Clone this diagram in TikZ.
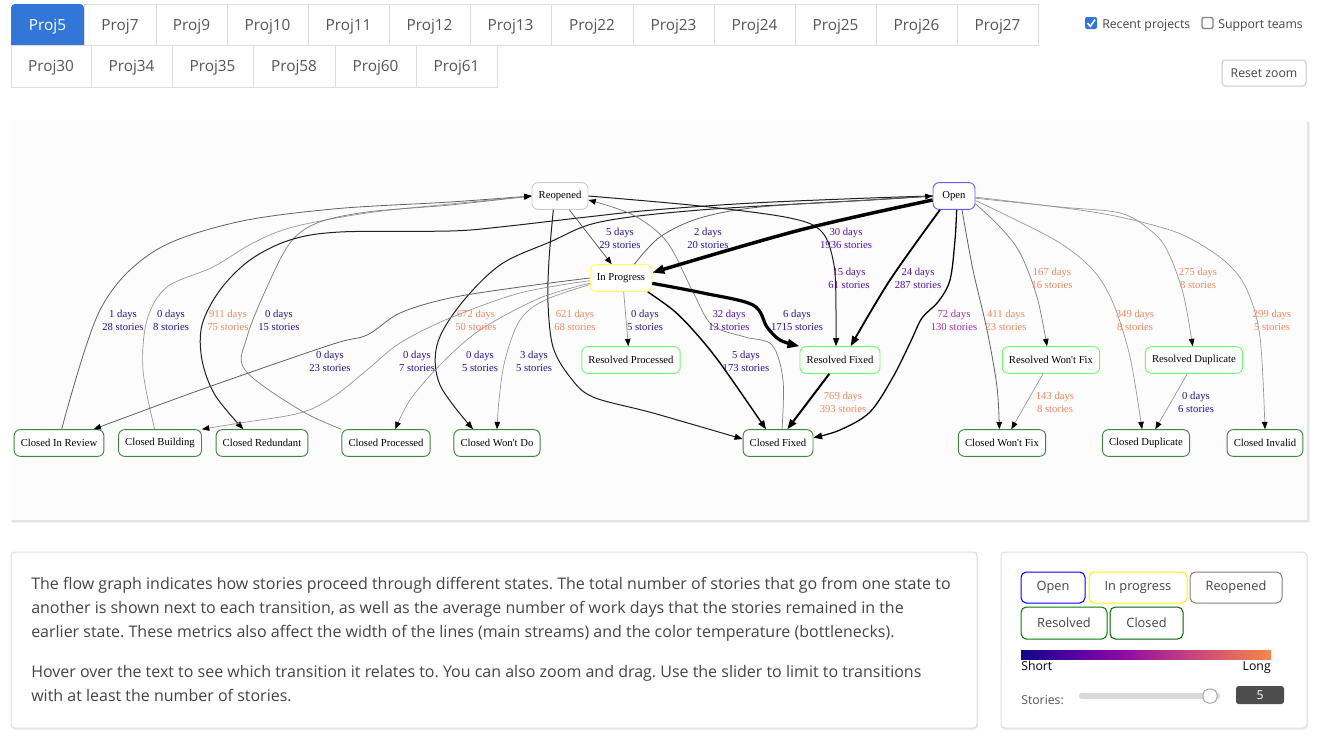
\documentclass[tikz,border=0pt]{standalone}
\usepackage{fontspec}
\usetikzlibrary{arrows.meta}
\newfontfamily\uif{Open Sans}
\newfontfamily\gf{Liberation Serif}
\definecolor{tabblue}{RGB}{50,118,216}
\definecolor{tabline}{RGB}{221,221,221}
\definecolor{tabtxt}{RGB}{85,85,85}
\definecolor{bodytxt}{RGB}{68,68,68}
\definecolor{cOpen}{RGB}{95,95,255}
\definecolor{cProg}{RGB}{255,255,90}
\definecolor{cReop}{RGB}{205,205,205}
\definecolor{cRes}{RGB}{110,250,110}
\definecolor{cClo}{RGB}{60,135,60}
\definecolor{dA}{RGB}{40,16,150}
\definecolor{dB}{RGB}{85,15,170}
\definecolor{dC}{RGB}{165,45,165}
\definecolor{dD}{RGB}{242,135,90}
\definecolor{panelbg}{RGB}{252,252,252}
\definecolor{valbox}{RGB}{77,77,77}
\definecolor{g1}{RGB}{13,8,135}
\definecolor{g2}{RGB}{84,2,163}
\definecolor{g3}{RGB}{139,10,165}
\definecolor{g4}{RGB}{185,50,137}
\definecolor{g5}{RGB}{219,92,104}
\definecolor{g6}{RGB}{244,136,73}
\begin{document}
\frenchspacing
\begin{tikzpicture}[x=0.75pt,y=-0.75pt,
  gn/.style={draw, fill=white, rounded corners=4.5pt, minimum height=20pt, inner xsep=5pt, inner ysep=0pt, line width=0.7pt, font=\gf\fontsize{8}{9.75}\selectfont},
  nopen/.style={gn, draw=cOpen, minimum width=31.5pt},
  nprog/.style={gn, draw=cProg},
  nreop/.style={gn, draw=cReop},
  nres/.style={gn, draw=cRes},
  nclo/.style={gn, draw=cClo},
  lb/.style={align=center, font=\gf\fontsize{8}{9.75}\selectfont, inner sep=0pt},
  e0/.style={-{Triangle[length=5.5pt,width=4.2pt,color=black]}, line width=0.5pt, draw=black!42},
  e1/.style={-{Triangle[length=5.5pt,width=4.2pt,color=black]}, line width=0.55pt, draw=black!50},
  e2/.style={-{Triangle[length=5.5pt,width=4.2pt,color=black]}, line width=0.6pt, draw=black!62},
  e3/.style={-{Triangle[length=6pt,width=4.5pt,color=black]}, line width=0.75pt, draw=black!88},
  e4/.style={-{Triangle[length=6.5pt,width=5pt]}, line width=1.05pt, draw=black},
  e4b/.style={-{Triangle[length=6.5pt,width=5pt]}, line width=0.95pt, draw=black},
  e5/.style={-{Triangle[length=7.5pt,width=5.5pt]}, line width=1.5pt, draw=black},
  e5b/.style={-{Triangle[length=7.5pt,width=5.5pt]}, line width=1.35pt, draw=black},
  e6/.style={-{Triangle[length=9pt,width=6.5pt]}, line width=2.4pt, draw=black},
  e7/.style={-{Triangle[length=9pt,width=6.5pt]}, line width=2.6pt, draw=black},
  tabt/.style={font=\uif\fontsize{11.5}{14}\selectfont, text=tabtxt, inner sep=0pt, anchor=base},
  uit/.style={font=\uif\fontsize{9.2}{11}\selectfont, text=bodytxt, inner sep=0pt},
  bt/.style={font=\uif\fontsize{12}{18}\selectfont, text=bodytxt, inner sep=0pt, anchor=base west},
  lg/.style={draw, line width=0.75pt, rounded corners=4pt, inner sep=0pt, font=\uif\fontsize{9.6}{11}\selectfont, text=bodytxt},
]
\useasboundingbox (0,0) rectangle (1318,736);
\fill[white] (0,0) rectangle (1318,736);

% ---------- tabs ----------
\fill[tabblue] (11,45) [rounded corners=3pt] -- (11,4) -- (84,4) [sharp corners] -- (84,45) -- cycle;
\node[tabt, text=white] (tabProj5) at (47.5,30) {Proj5};
\foreach \a/\b/\t in {84/156/Proj7,156/227/Proj9,227/308/Proj10,308/389/Proj11,389/470/Proj12,470/551/Proj13,551/633/Proj22,633/714/Proj23,714/795/Proj24,795/876/Proj25,876/957/Proj26,957/1038/Proj27}{
  \draw[tabline, line width=0.75pt] (\a,4) rectangle (\b,45);
  \node[tabt] (tab\t) at ({(\a+\b)/2},30) {\t};
}
\foreach \a/\b/\t in {11/91/Proj30,91/172/Proj34,172/253/Proj35,253/335/Proj58,335/416/Proj60,416/497/Proj61}{
  \draw[tabline, line width=0.75pt] (\a,45) rectangle (\b,87);
  \node[tabt] (tab\t) at ({(\a+\b)/2},71.5) {\t};
}

% ---------- checkboxes & reset ----------
\fill[tabblue, rounded corners=1.5pt] (1085,17) rectangle (1097,29);
\draw[white, line width=1.2pt] (1087.5,23.2) -- (1090.3,26.3) -- (1095,19.6);
\node[uit, anchor=base west] (recent) at (1102,28) {Recent projects};
\draw[black!50, line width=1pt, rounded corners=1.5pt] (1202,17.5) rectangle (1213,28.5);
\node[uit, anchor=base west] (support) at (1218,28) {Support teams};
\node[uit, draw=black!22, line width=0.75pt, rounded corners=2.5pt, minimum width=63pt, minimum height=19.5pt] (reset) at (1264,73) {Reset zoom};

% ---------- panels ----------
\fill[black, opacity=0.05] (12,122) rectangle (1310,523);
\fill[black, opacity=0.06] (11,121) rectangle (1309,521.5);
\fill[panelbg] (11,120) rectangle (1307,520);

\fill[black, opacity=0.06, rounded corners=3pt] (11,553) rectangle (978,730);
\draw[black!13, fill=white, line width=0.75pt, rounded corners=3pt] (11,552) rectangle (977,728);
\fill[black, opacity=0.06, rounded corners=3pt] (1001,553) rectangle (1308,730);
\draw[black!13, fill=white, line width=0.75pt, rounded corners=3pt] (1001,552) rectangle (1307,728);

% ---------- graph nodes ----------
\node[nreop] (reo) at (560,196) {Reopened};
\node[nopen] (open) at (954,196) {Open};
\node[nprog] (ip) at (621,278) {In Progress};
\node[nres] (rp) at (631,360) {Resolved Processed};
\node[nres] (rf) at (840,360) {Resolved Fixed};
\node[nres] (rwf) at (1051,360) {Resolved Won't Fix};
\node[nres] (rd) at (1194,360) {Resolved Duplicate};
\node[nclo] (cir) at (59,443) {Closed In Review};
\node[nclo] (cb) at (160,443) {Closed Building};
\node[nclo] (cred) at (262,443) {Closed Redundant};
\node[nclo] (cp) at (386,443) {Closed Processed};
\node[nclo] (cwd) at (497,443) {Closed Won't Do};
\node[nclo] (cf) at (778,443) {Closed Fixed};
\node[nclo] (cwf) at (1002,443) {Closed Won't Fix};
\node[nclo] (cd) at (1146,443) {Closed Duplicate};
\node[nclo] (ci) at (1265,443) {Closed Invalid};

% ---------- edges ----------
\draw[e2] plot[smooth,tension=0.55] coordinates {([xshift=2pt]cir.north) (100,310) (153,252) (233,223) (333,209) (450,202) (reo.west)};
\draw[e0] plot[smooth,tension=0.55] coordinates {([xshift=-4pt]cb.north) (143,370) (147,320) (167,287) (213,267) (253,243) (293,227) (367,213) (450,204) (reo.west)};
\draw[e1] plot[smooth,tension=0.55] coordinates {(cp.north west) (300,410) (245,370) (247,337) (267,287) (290,243) (317,223) (367,212) (450,205) (reo.west)};
\draw[e3] plot[smooth,tension=0.55] coordinates {(open.west) (870,198) (753,203) (653,210) (587,217) (500,227) (450,231) (340,232) (290,240) (250,260) (220,290) (202,325) (202,360) (215,395) ([xshift=-14pt]cred.north)};
\draw[e3] plot[smooth,tension=0.55] coordinates {(open.west) (870,200) (700,210) (600,222) (550,242) (500,265) (460,305) (437,345) (440,385) ([xshift=-18pt]cwd.north)};
\draw[e2] plot[smooth,tension=0.55] coordinates {([xshift=10pt]ip.north) (660,237) (700,218) (760,207) (870,200) (open.west)};
\draw[e2] ([xshift=7pt]reo.south) -- ([xshift=-7pt]ip.north);
\draw[e3] plot[smooth,tension=0.55] coordinates {(reo.east) (700,206) (790,218) (822,232) (834,265) (836,310) ([xshift=-3pt]rf.north)};
\draw[e1] plot[smooth,tension=0.55] coordinates {([xshift=3pt]cf.north) (783,380) (772,345) (745,337) (712,325) (693,292) (667,242) (633,215) ([yshift=-3pt]reo.east)};
\draw[e3] plot[smooth,tension=0.55] coordinates {([xshift=-5pt]reo.south) (549,260) (548,303) (553,347) (570,377) (593,397) (653,413) ([yshift=3pt]cf.west)};
\draw[e0] ([xshift=2pt]ip.south) -- ([xshift=-2pt]rp.north);
\draw[e0] plot[smooth,tension=0.55] coordinates {([yshift=-5pt]ip.west) (545,300) (520,320) (505,360) (499,400) (cwd.north)};
\draw[e0] plot[smooth,tension=0.55] coordinates {([yshift=-4pt]ip.west) (540,298) (480,330) (440,365) (410,400) ([xshift=7pt]cp.north)};
\draw[e0] plot[smooth,tension=0.55] coordinates {([yshift=-2pt]ip.west) (520,293) (450,318) (400,343) (367,370) (333,397) (300,413) (240,423) (cb.north east)};
\draw[e2] plot[smooth,tension=0.55] coordinates {(ip.west) (520,287) (450,298) (400,313) (367,335) (330,345) (200,390) ([xshift=26pt]cir.north)};
\draw[e4] plot[smooth,tension=0.55] coordinates {([xshift=20pt]ip.south) (673,310) (693,330) (720,363) ([xshift=-9pt]cf.north)};
\draw[e6] plot[smooth,tension=0.55] coordinates {([yshift=-4pt]ip.east) (703,293) (753,305) (767,327) (780,340) (rf.north west)};
\draw[e7] plot[smooth,tension=0.55] coordinates {([yshift=-3pt]open.west) (800,230) ([yshift=4pt]ip.east)};
\draw[e5] ([xshift=-8pt]rf.south) -- ([xshift=7pt]cf.north);
\draw[e5b] plot[smooth,tension=0.55] coordinates {([xshift=-10.5pt]open.south) (890,280) ([xshift=8pt]rf.north)};
\draw[e4b] plot[smooth,tension=0.55] coordinates {([xshift=2pt]open.south) (955,240) (950,280) (938,302) (922,318) (910,343) (893,377) (870,412) (840,430) ([yshift=4pt]cf.east)};
\draw[e2] plot[smooth,tension=0.55] coordinates {([xshift=6pt]open.south) (973,270) (987,330) (997,387) ([xshift=-2pt]cwf.north)};
\draw[e1] plot[smooth,tension=0.55] coordinates {(open.-20) (1000,227) (1020,253) (1037,297) ([xshift=-3pt]rwf.north)};
\draw[e0] plot[smooth,tension=0.55] coordinates {(open.-12) (1010,217) (1060,243) (1093,270) (1113,303) (1130,357) ([xshift=-3pt]cd.north)};
\draw[e0] plot[smooth,tension=0.55] coordinates {(open.-6) (1060,207) (1120,213) (1150,230) (1167,250) (1183,293) ([xshift=-1pt]rd.north)};
\draw[e0] plot[smooth,tension=0.55] coordinates {(open.-3) (1093,212) (1160,227) (1193,240) (1227,263) (1247,290) (1260,337) (ci.north)};
\draw[e0] ([xshift=-6pt]rwf.south) -- ([xshift=7pt]cwf.north);
\draw[e0] ([xshift=-5pt]rd.south) -- ([xshift=7pt]cd.north);

% ---------- edge labels ----------
\node[lb,text=dA] (l01) at (123,320) {1 days\\28 stories};
\node[lb,text=dA] (l02) at (171,320) {0 days\\8 stories};
\node[lb,text=dD] (l03) at (228,320) {911 days\\75 stories};
\node[lb,text=dA] (l04) at (279,320) {0 days\\15 stories};
\node[lb,text=dD] (l05) at (476,320) {672 days\\50 stories};
\node[lb,text=dD] (l06) at (575,320) {621 days\\68 stories};
\node[lb,text=dA] (l07) at (645,320) {0 days\\5 stories};
\node[lb,text=dB] (l08) at (729,320) {32 days\\13 stories};
\node[lb,text=dA] (l09) at (797,320) {6 days\\1715 stories};
\node[lb,text=dA] (l10) at (620,238) {5 days\\29 stories};
\node[lb,text=dA] (l11) at (708,238) {2 days\\20 stories};
\node[lb,text=dB] (l12) at (846,238) {30 days\\1936 stories};
\node[lb,text=dB] (l13) at (849,278) {15 days\\61 stories};
\node[lb,text=dB] (l14) at (918,278) {24 days\\287 stories};
\node[lb,text=dC] (l15) at (954,320) {72 days\\130 stories};
\node[lb,text=dD] (l16) at (1006,320) {411 days\\23 stories};
\node[lb,text=dD] (l17) at (1052,278) {167 days\\16 stories};
\node[lb,text=dD] (l18) at (1135,320) {349 days\\8 stories};
\node[lb,text=dD] (l19) at (1198,278) {275 days\\8 stories};
\node[lb,text=dD] (l20) at (1272,320) {299 days\\5 stories};
\node[lb,text=dA] (l21) at (330,361) {0 days\\23 stories};
\node[lb,text=dA] (l22) at (417,361) {0 days\\7 stories};
\node[lb,text=dA] (l23) at (480,361) {0 days\\5 stories};
\node[lb,text=dA] (l24) at (534,361) {3 days\\5 stories};
\node[lb,text=dA] (l25) at (746,361) {5 days\\173 stories};
\node[lb,text=dD] (l26) at (843,402) {769 days\\393 stories};
\node[lb,text=dD] (l27) at (1055,402) {143 days\\8 stories};
\node[lb,text=dA] (l28) at (1196,402) {0 days\\6 stories};

% ---------- body text ----------
\node[bt] (b1) at (31,589) {The flow graph indicates how stories proceed through different states. The total number of stories that go from one state to};
\node[bt] (b2) at (31,613) {another is shown next to each transition, as well as the average number of work days that the stories remained in the};
\node[bt] (b3) at (31,637) {earlier state. These metrics also affect the width of the lines (main streams) and the color temperature (bottlenecks).};
\node[bt] (b4) at (31,677) {Hover over the text to see which transition it relates to. You can also zoom and drag. Use the slider to limit to transitions};
\node[bt] (b5) at (31,701) {with at least the number of stories.};

% ---------- legend ----------
\node[lg, draw=blue, minimum width=48pt, minimum height=23.25pt] (lgOpen) at (1053,587.5) {Open};
\node[lg, draw=yellow, minimum width=73.5pt, minimum height=23.25pt] (lgProg) at (1138,587.5) {In progress};
\node[lg, draw=black!50, minimum width=69pt, minimum height=23.25pt] (lgReop) at (1236,587.5) {Reopened};
\node[lg, draw=green!50!black, minimum width=64.5pt, minimum height=24pt] (lgRes) at (1064,623) {Resolved};
\node[lg, draw=green!39!black, minimum width=54.75pt, minimum height=24pt] (lgClo) at (1146.5,623) {Closed};
\shade[left color=g1, right color=g2] (1021,650) rectangle (1071.5,659);
\shade[left color=g2, right color=g3] (1071,650) rectangle (1121.5,659);
\shade[left color=g3, right color=g4] (1121,650) rectangle (1171.5,659);
\shade[left color=g4, right color=g5] (1171,650) rectangle (1221.5,659);
\shade[left color=g5, right color=g6] (1221,650) rectangle (1271,659);
\node[uit, text=black, anchor=base west] (short) at (1021,670) {Short};
\node[uit, text=black, anchor=base east] (long) at (1271,670) {Long};
\node[uit, text=tabtxt, anchor=base west] (stories) at (1021,704) {Stories:};
\fill[black!15, rounded corners=2pt] (1079,693) rectangle (1220,699);
\draw[black!35, fill=white, line width=0.75pt, rounded corners=4pt] (1203,689) rectangle (1217,703);
\node[uit, fill=valbox, text=white, rounded corners=2pt, minimum width=36pt, minimum height=13.5pt] (val) at (1260,695) {5};
\end{tikzpicture}
\end{document}
